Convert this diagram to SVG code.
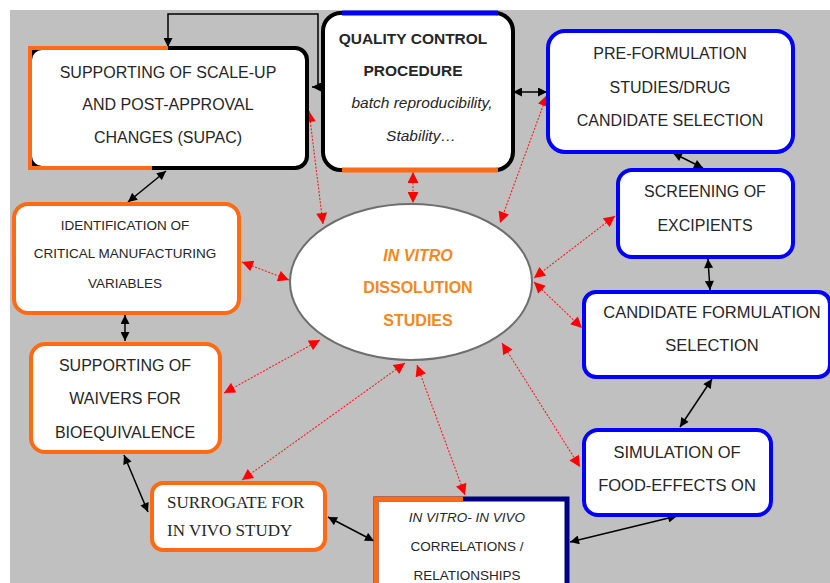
<svg xmlns="http://www.w3.org/2000/svg" width="830" height="583" viewBox="0 0 830 583">
<defs>
<style>
.t{font-family:"Liberation Sans",Arial,sans-serif;fill:#262626;text-anchor:middle}
.o{fill:#f7861c;font-weight:bold}
.b{stroke:#000;stroke-width:1.5;fill:none;marker-start:url(#ab);marker-end:url(#ab)}
.r{stroke:#ff1a1a;stroke-width:1.1;stroke-dasharray:2 1.5;fill:none;marker-start:url(#ar);marker-end:url(#ar)}
.box{fill:#fff;stroke-width:4}
</style>
<marker id="ab" viewBox="0 0 10 10" refX="10" refY="5" markerWidth="10" markerHeight="9" markerUnits="userSpaceOnUse" orient="auto-start-reverse"><path d="M0,0 L10,5 L0,10 z" fill="#000"/></marker>
<marker id="ar" viewBox="0 0 10 10" refX="10" refY="5" markerWidth="12" markerHeight="11" markerUnits="userSpaceOnUse" orient="auto-start-reverse"><path d="M0,0 L10,5 L0,10 z" fill="#ff0000"/></marker>
</defs>
<rect x="0" y="0" width="830" height="583" fill="#fff"/>
<rect x="10" y="10" width="820" height="573" fill="#c0c0c0"/>

<g id="connectors">
<path class="b" d="M168,47 V14 H318 V87 H312"/>
<line class="b" x1="513" y1="92" x2="547" y2="92"/>
<line class="b" x1="673" y1="153" x2="703" y2="168"/>
<line class="b" x1="708" y1="259" x2="710" y2="290"/>
<line class="b" x1="712" y1="379" x2="680" y2="427"/>
<line class="b" x1="677" y1="516" x2="570" y2="542"/>
<line class="b" x1="328" y1="517" x2="374" y2="541"/>
<line class="b" x1="124" y1="455" x2="148" y2="512"/>
<line class="b" x1="125" y1="315" x2="125" y2="341"/>
<line class="b" x1="166" y1="171" x2="128" y2="202"/>

<line class="r" x1="309" y1="111" x2="323" y2="224"/>
<line class="r" x1="413" y1="172" x2="413" y2="203"/>
<line class="r" x1="547" y1="95" x2="500" y2="223"/>
<line class="r" x1="615" y1="216" x2="534" y2="278"/>
<line class="r" x1="534" y1="282" x2="582" y2="328"/>
<line class="r" x1="502" y1="343" x2="580" y2="467"/>
<line class="r" x1="417" y1="365" x2="465" y2="495"/>
<line class="r" x1="405" y1="363" x2="242" y2="480"/>
<line class="r" x1="320" y1="340" x2="224" y2="393"/>
<line class="r" x1="242" y1="262" x2="289" y2="280"/>
</g>

<g id="supac">
<rect class="box" x="30" y="48" width="277" height="120" rx="12" stroke="#000"/>
<path d="M168,48 H30 V168 H152" fill="none" stroke="#ff6a13" stroke-width="4"/>
<text class="t" font-size="16" x="168" y="78">SUPPORTING OF SCALE-UP</text>
<text class="t" font-size="16" x="168" y="110">AND POST-APPROVAL</text>
<text class="t" font-size="16" x="168" y="143">CHANGES (SUPAC)</text>
</g>

<g id="qc">
<rect class="box" x="323" y="13" width="190" height="157" rx="18" stroke="#000" stroke-width="5"/>
<line x1="342" y1="13" x2="498" y2="13" stroke="#0000ff" stroke-width="5"/>
<line x1="342" y1="170" x2="498" y2="170" stroke="#ff6a13" stroke-width="5"/>
<text class="t" font-size="15.5" font-weight="bold" x="413" y="44">QUALITY CONTROL</text>
<text class="t" font-size="15.5" font-weight="bold" x="413" y="76">PROCEDURE</text>
<text class="t" font-size="15.5" font-style="italic" x="422" y="108">batch reproducibility,</text>
<text class="t" font-size="15.5" font-style="italic" x="421" y="141">Stability…</text>
</g>

<g id="preform">
<rect class="box" x="548" y="31" width="245" height="121" rx="17" stroke="#0000ff"/>
<text class="t" font-size="16" x="670" y="59">PRE-FORMULATION</text>
<text class="t" font-size="16" x="670" y="93">STUDIES/DRUG</text>
<text class="t" font-size="16" x="670" y="126">CANDIDATE SELECTION</text>
</g>

<g id="screening">
<rect class="box" x="618" y="170" width="175" height="87" rx="14" stroke="#0000ff"/>
<text class="t" font-size="16" x="705" y="197">SCREENING OF</text>
<text class="t" font-size="16" x="705" y="231">EXCIPIENTS</text>
</g>

<g id="candidate">
<rect class="box" x="584" y="292" width="246" height="85" rx="12" stroke="#0000ff"/>
<text class="t" font-size="16.5" x="712" y="318">CANDIDATE FORMULATION</text>
<text class="t" font-size="16.5" x="712" y="351">SELECTION</text>
</g>

<g id="simulation">
<rect class="box" x="584" y="430" width="187" height="85" rx="14" stroke="#0000ff"/>
<text class="t" font-size="16.5" x="677" y="458">SIMULATION OF</text>
<text class="t" font-size="16.5" x="677" y="491">FOOD-EFFECTS ON</text>
</g>

<g id="ivivc">
<rect x="376" y="499" width="191" height="110" fill="#fff" stroke="#000080" stroke-width="5"/>
<path d="M463,499 H376 V583" fill="none" stroke="#ff6a13" stroke-width="5"/>
<text class="t" font-size="13.5" font-style="italic" x="467" y="522">IN VITRO- IN VIVO</text>
<text class="t" font-size="13.5" x="467" y="551">CORRELATIONS /</text>
<text class="t" font-size="13.5" x="467" y="580">RELATIONSHIPS</text>
</g>

<g id="surrogate">
<rect class="box" x="152" y="483" width="173" height="67" rx="11" stroke="#ff6a13"/>
<text font-family="'Liberation Serif','Times New Roman',serif" font-size="17" fill="#262626" x="167" y="508">SURROGATE FOR</text>
<text font-family="'Liberation Serif','Times New Roman',serif" font-size="17" fill="#262626" x="167" y="536">IN VIVO STUDY</text>
</g>

<g id="identification">
<rect class="box" x="14" y="204" width="225" height="109" rx="14" stroke="#ff6a13"/>
<text class="t" font-size="13.5" x="125" y="230">IDENTIFICATION OF</text>
<text class="t" font-size="13.5" x="125" y="258">CRITICAL MANUFACTURING</text>
<text class="t" font-size="13.5" x="125" y="288">VARIABLES</text>
</g>

<g id="waivers">
<rect class="box" x="31" y="344" width="189" height="108" rx="14" stroke="#ff6a13"/>
<text class="t" font-size="16" x="125" y="371">SUPPORTING OF</text>
<text class="t" font-size="16" x="125" y="404">WAIVERS FOR</text>
<text class="t" font-size="16" x="125" y="438">BIOEQUIVALENCE</text>
</g>

<g id="dissolution">
<ellipse cx="411" cy="282" rx="121" ry="78" fill="#fff" stroke="#6e6e6e" stroke-width="2"/>
<text class="t o" font-size="16" font-style="italic" x="418" y="261">IN VITRO</text>
<text class="t o" font-size="16" x="418" y="293">DISSOLUTION</text>
<text class="t o" font-size="16" x="418" y="326">STUDIES</text>
</g>
</svg>
